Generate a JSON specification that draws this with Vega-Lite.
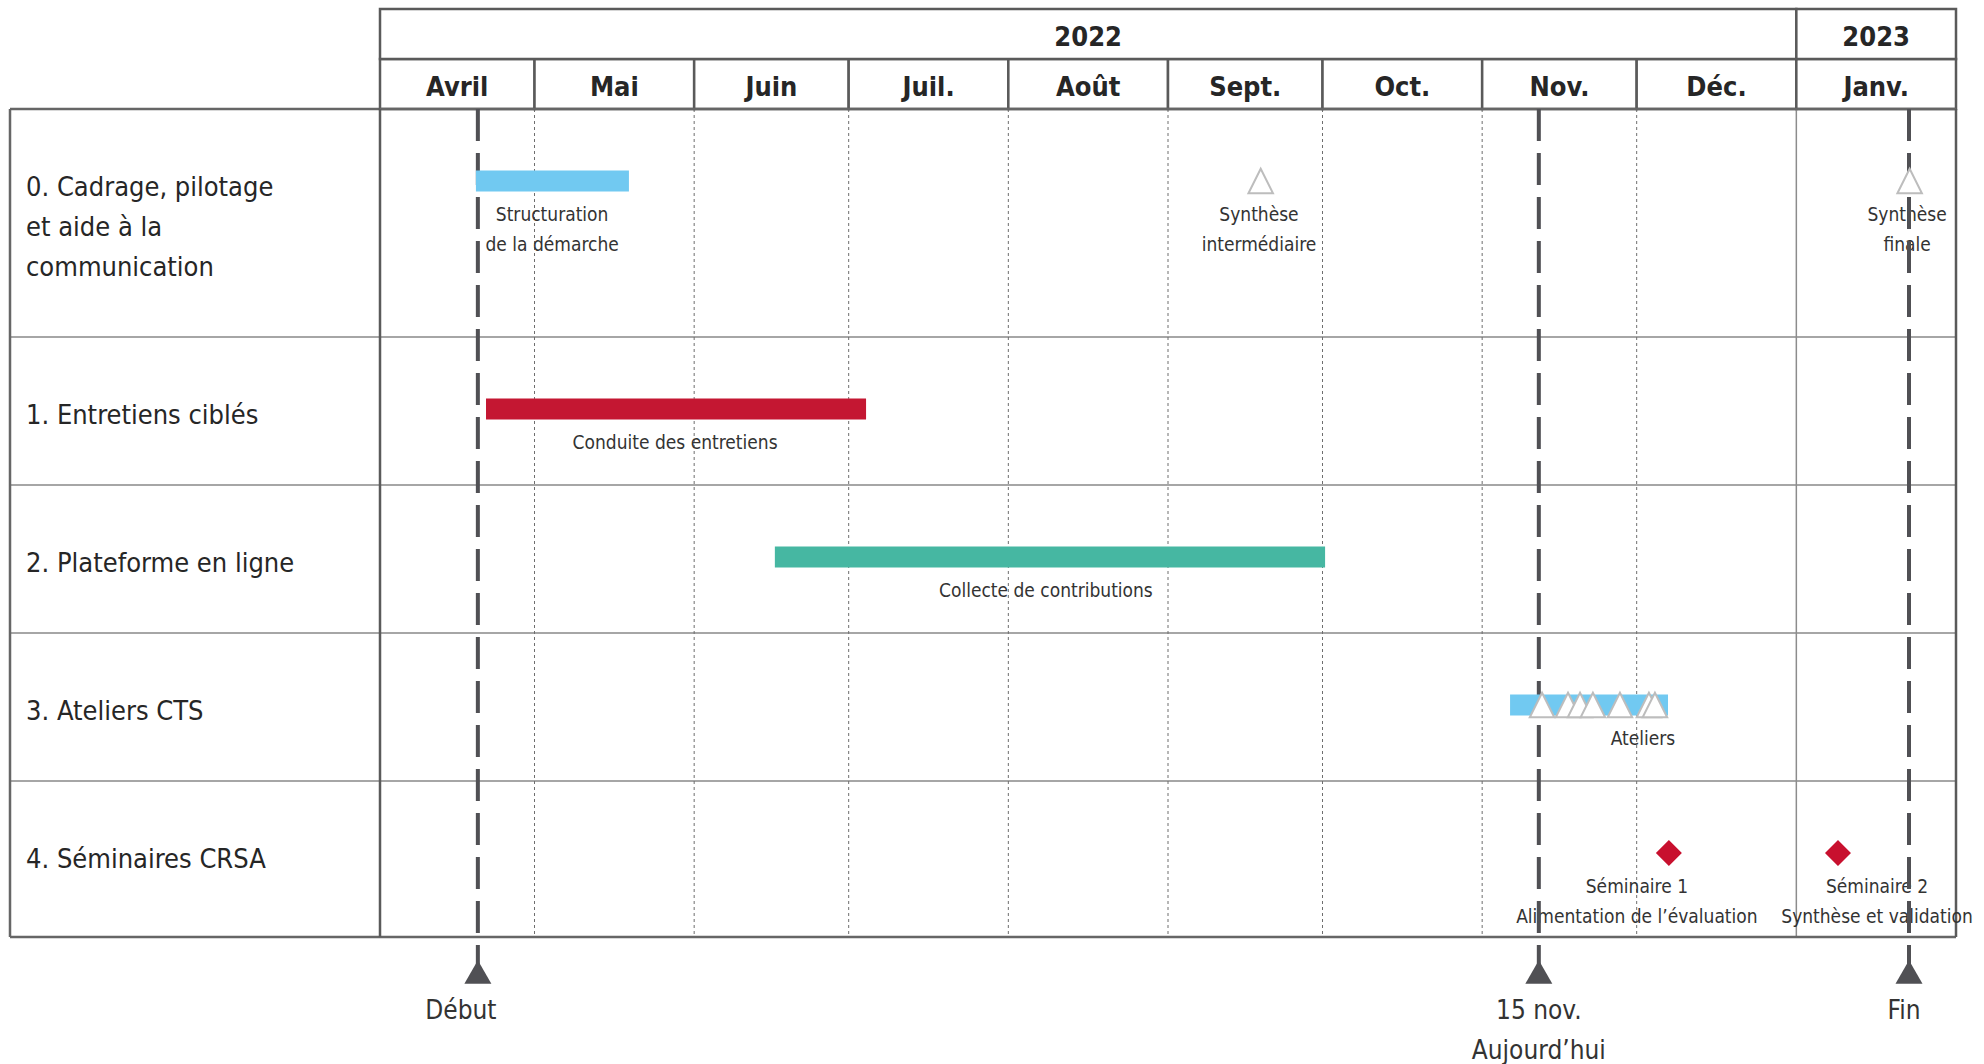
{
  "$schema": "https://vega.github.io/schema/vega-lite/v6.json",
  "padding": {"left": 8, "top": 7, "right": 0, "bottom": 0},
  "background": "white",
  "spacing": 0,
  "bounds": "flush",
  "config": {"view": {"stroke": null}, "font": "DejaVu Sans Condensed, DejaVu Sans, sans-serif"},
  "datasets": {
    "rows": [
      {"lane": 0, "lines": ["0. Cadrage, pilotage", "et aide à la", "communication"]},
      {"lane": 1, "lines": ["1. Entretiens ciblés"]},
      {"lane": 2, "lines": ["2. Plateforme en ligne"]},
      {"lane": 3, "lines": ["3. Ateliers CTS"]},
      {"lane": 4, "lines": ["4. Séminaires CRSA"]}
    ],
    "hlines": [
      {"lane": 0, "kind": "border"},
      {"lane": 1, "kind": "row"},
      {"lane": 2, "kind": "row"},
      {"lane": 3, "kind": "row"},
      {"lane": 4, "kind": "row"},
      {"lane": 5, "kind": "border"}
    ],
    "months": [
      {"m": "Avril", "start": "2022-04-01", "end": "2022-05-01"},
      {"m": "Mai", "start": "2022-05-01", "end": "2022-06-01"},
      {"m": "Juin", "start": "2022-06-01", "end": "2022-07-01"},
      {"m": "Juil.", "start": "2022-07-01", "end": "2022-08-01"},
      {"m": "Août", "start": "2022-08-01", "end": "2022-09-01"},
      {"m": "Sept.", "start": "2022-09-01", "end": "2022-10-01"},
      {"m": "Oct.", "start": "2022-10-01", "end": "2022-11-01"},
      {"m": "Nov.", "start": "2022-11-01", "end": "2022-12-01"},
      {"m": "Déc.", "start": "2022-12-01", "end": "2023-01-01"},
      {"m": "Janv.", "start": "2023-01-01", "end": "2023-02-01"}
    ],
    "years": [
      {"year": "2022", "start": "2022-04-01", "end": "2023-01-01"},
      {"year": "2023", "start": "2023-01-01", "end": "2023-02-01"}
    ],
    "tasks": [
      {"lane": 0, "task": "Structuration de la démarche", "start": "2022-04-19T15:00Z", "end": "2022-05-19T08:00Z"},
      {"lane": 1, "task": "Conduite des entretiens", "start": "2022-04-21T14:00Z", "end": "2022-07-04T09:00Z"},
      {"lane": 2, "task": "Collecte de contributions", "start": "2022-06-16T16:00Z", "end": "2022-10-01T12:00Z"},
      {"lane": 3, "task": "Ateliers", "start": "2022-11-06T10:00Z", "end": "2022-12-07T02:00Z"}
    ],
    "milestones": [
      {"lane": 0, "date": "2022-09-19T00:00Z", "what": "Synthèse intermédiaire"},
      {"lane": 0, "date": "2023-01-23T00:00Z", "what": "Synthèse finale"},
      {"lane": 3, "date": "2022-11-12T15:00Z", "what": "Atelier"},
      {"lane": 3, "date": "2022-11-17T16:00Z", "what": "Atelier"},
      {"lane": 3, "date": "2022-11-20T00:00Z", "what": "Atelier"},
      {"lane": 3, "date": "2022-11-22T12:00Z", "what": "Atelier"},
      {"lane": 3, "date": "2022-11-27T18:00Z", "what": "Atelier"},
      {"lane": 3, "date": "2022-12-03T09:00Z", "what": "Atelier"},
      {"lane": 3, "date": "2022-12-04T13:00Z", "what": "Atelier"}
    ],
    "seminars": [
      {"lane": 4, "date": "2022-12-07T06:00Z", "what": "Séminaire 1"},
      {"lane": 4, "date": "2023-01-09T02:00Z", "what": "Séminaire 2"}
    ],
    "notes": [
      {"lane": 0, "at": "2022-05-04T10:00Z", "lines": ["Structuration", "de la démarche"]},
      {"lane": 0, "at": "2022-09-18T16:00Z", "lines": ["Synthèse", "intermédiaire"]},
      {"lane": 0, "at": "2023-01-22T12:00Z", "lines": ["Synthèse", "finale"]},
      {"lane": 1, "at": "2022-05-28T07:00Z", "lines": ["Conduite des entretiens"]},
      {"lane": 2, "at": "2022-08-08T07:00Z", "lines": ["Collecte de contributions"]},
      {"lane": 3, "at": "2022-12-02T05:00Z", "lines": ["Ateliers"]},
      {"lane": 4, "at": "2022-12-01T01:00Z", "lines": ["Séminaire 1", "Alimentation de l’évaluation"]},
      {"lane": 4, "at": "2023-01-16T16:00Z", "lines": ["Séminaire 2", "Synthèse et validation"]}
    ],
    "markers": [
      {"name": "Début", "date": "2022-04-20T00:00Z"},
      {"name": "Aujourd’hui", "date": "2022-11-12T00:00Z"},
      {"name": "Fin", "date": "2023-01-22T21:00Z"}
    ],
    "markerLabels": [
      {"at": "2022-04-16T17:00Z", "lines": ["Début"]},
      {"at": "2022-11-12T00:00Z", "lines": ["15 nov.", "Aujourd’hui"]},
      {"at": "2023-01-21T22:00Z", "lines": ["Fin"]}
    ]
  },
  "hconcat": [
    {
      "width": 370,
      "height": 1057,
      "layer": [
        {
          "data": {"name": "hlines"},
          "transform": [{"filter": "datum.kind === 'row'"}],
          "mark": {"type": "rule", "color": "#a6a6a6", "strokeWidth": 2},
          "encoding": {
            "y": {"field": "lane", "type": "quantitative", "axis": null,
                  "scale": {"domain": [-2, -1, 0, 1, 2, 3, 4, 5, 6], "range": [0, 50, 100, 328, 476, 624, 772, 928, 1057], "nice": false, "zero": false}}
          }
        },
        {
          "data": {"name": "hlines"},
          "transform": [{"filter": "datum.kind === 'border'"}],
          "mark": {"type": "rule", "color": "#666666", "strokeWidth": 2.5},
          "encoding": {"y": {"field": "lane", "type": "quantitative"}}
        },
        {
          "data": {"values": [{"edge": "left"}]},
          "mark": {"type": "rule", "color": "#666666", "strokeWidth": 2.5},
          "encoding": {
            "x": {"datum": 0, "type": "quantitative", "axis": null, "scale": {"domain": [0, 1], "nice": false, "zero": false}},
            "y": {"datum": 0, "type": "quantitative"},
            "y2": {"datum": 5}
          }
        },
        {
          "data": {"name": "rows"},
          "mark": {"type": "text", "align": "left", "baseline": "alphabetic", "dx": 16, "dy": 87, "fontSize": 27, "lineHeight": 40, "color": "#262626", "font": "DejaVu Sans Condensed, DejaVu Sans, sans-serif"},
          "encoding": {
            "x": {"datum": 0, "type": "quantitative"},
            "y": {"field": "lane", "type": "quantitative"},
            "text": {"field": "lines", "type": "nominal"}
          }
        }
      ]
    },
    {
      "width": 1576,
      "height": 1057,
      "layer": [
        {
          "data": {"name": "months"},
          "mark": {"type": "rect", "fill": "white", "stroke": "#5a5a5a", "strokeWidth": 2.5},
          "encoding": {
            "x": {"field": "start", "type": "temporal", "axis": null,
                  "scale": {"type": "utc", "domain": [{"year": 2022, "month": 4, "date": 1, "utc": true}, {"year": 2023, "month": 2, "date": 1, "utc": true}], "nice": false}},
            "x2": {"field": "end"},
            "y": {"datum": -1, "type": "quantitative", "axis": null,
                  "scale": {"domain": [-2, -1, 0, 1, 2, 3, 4, 5, 6], "range": [0, 50, 100, 328, 476, 624, 772, 928, 1057], "nice": false, "zero": false}},
            "y2": {"datum": 0}
          }
        },
        {
          "data": {"name": "years"},
          "mark": {"type": "rect", "fill": "white", "stroke": "#5a5a5a", "strokeWidth": 2.5},
          "encoding": {
            "x": {"field": "start", "type": "temporal"},
            "x2": {"field": "end"},
            "y": {"datum": -2, "type": "quantitative"},
            "y2": {"datum": -1}
          }
        },
        {
          "data": {"name": "months"},
          "mark": {"type": "text", "align": "center", "baseline": "alphabetic", "dy": 37, "fontSize": 27, "fontWeight": "bold", "color": "#262626", "font": "DejaVu Sans Condensed, DejaVu Sans, sans-serif"},
          "encoding": {
            "x": {"field": "start", "type": "temporal", "timeUnit": "utcyearmonth", "bandPosition": 0.5},
            "y": {"datum": -1, "type": "quantitative"},
            "text": {"field": "m", "type": "nominal"}
          }
        },
        {
          "data": {"name": "years", "format": {"parse": {"start": "date", "end": "date"}}},
          "transform": [
            {"fold": ["start", "end"], "as": ["edge", "d"]},
            {"aggregate": [{"op": "mean", "field": "d", "as": "mid"}], "groupby": ["year"]}
          ],
          "mark": {"type": "text", "align": "center", "baseline": "alphabetic", "dy": 37, "fontSize": 27, "fontWeight": "bold", "color": "#262626", "font": "DejaVu Sans Condensed, DejaVu Sans, sans-serif"},
          "encoding": {
            "x": {"field": "mid", "type": "temporal"},
            "y": {"datum": -2, "type": "quantitative"},
            "text": {"field": "year", "type": "nominal"}
          }
        },
        {
          "data": {"name": "hlines"},
          "transform": [{"filter": "datum.kind === 'row'"}],
          "mark": {"type": "rule", "color": "#a6a6a6", "strokeWidth": 2},
          "encoding": {"y": {"field": "lane", "type": "quantitative"}}
        },
        {
          "data": {"name": "months"},
          "transform": [{"filter": {"field": "m", "oneOf": ["Mai", "Juin", "Juil.", "Août", "Sept.", "Oct.", "Nov.", "Déc."]}}],
          "mark": {"type": "rule", "color": "#6e6e6e", "strokeWidth": 1, "strokeDash": [3, 3]},
          "encoding": {
            "x": {"field": "start", "type": "temporal"},
            "y": {"datum": 0, "type": "quantitative"},
            "y2": {"datum": 5}
          }
        },
        {
          "data": {"name": "months"},
          "transform": [{"filter": {"field": "m", "equal": "Janv."}}],
          "mark": {"type": "rule", "color": "#8c8c8c", "strokeWidth": 1.5},
          "encoding": {
            "x": {"field": "start", "type": "temporal"},
            "y": {"datum": 0, "type": "quantitative"},
            "y2": {"datum": 5}
          }
        },
        {
          "data": {"name": "hlines"},
          "transform": [{"filter": "datum.kind === 'border'"}],
          "mark": {"type": "rule", "color": "#666666", "strokeWidth": 2.5},
          "encoding": {"y": {"field": "lane", "type": "quantitative"}}
        },
        {
          "data": {"name": "months"},
          "transform": [{"filter": {"field": "m", "oneOf": ["Avril"]}}],
          "mark": {"type": "rule", "color": "#5a5a5a", "strokeWidth": 2.5},
          "encoding": {
            "x": {"field": "start", "type": "temporal"},
            "y": {"datum": 0, "type": "quantitative"},
            "y2": {"datum": 5}
          }
        },
        {
          "data": {"name": "months"},
          "transform": [{"filter": {"field": "m", "oneOf": ["Janv."]}}],
          "mark": {"type": "rule", "color": "#5a5a5a", "strokeWidth": 2.5},
          "encoding": {
            "x": {"field": "end", "type": "temporal"},
            "y": {"datum": 0, "type": "quantitative"},
            "y2": {"datum": 5}
          }
        },
        {
          "data": {"name": "notes"},
          "mark": {"type": "text", "align": "center", "baseline": "alphabetic", "dy": 112, "fontSize": 19, "lineHeight": 30, "color": "#333333", "font": "DejaVu Sans Condensed, DejaVu Sans, sans-serif"},
          "encoding": {
            "x": {"field": "at", "type": "temporal"},
            "y": {"field": "lane", "type": "quantitative"},
            "text": {"field": "lines", "type": "nominal"}
          }
        },
        {
          "data": {"name": "markers"},
          "mark": {"type": "rule", "color": "#505054", "strokeWidth": 4, "strokeDash": [32, 12], "y2Offset": 30},
          "encoding": {
            "x": {"field": "date", "type": "temporal"},
            "y": {"datum": 0, "type": "quantitative"},
            "y2": {"datum": 5}
          }
        },
        {
          "data": {"name": "tasks"},
          "mark": {"type": "rule", "strokeWidth": 21, "yOffset": 72, "strokeCap": "butt"},
          "encoding": {
            "x": {"field": "start", "type": "temporal"},
            "x2": {"field": "end"},
            "y": {"field": "lane", "type": "quantitative"},
            "color": {"field": "lane", "type": "nominal", "legend": null,
                      "scale": {"domain": [0, 1, 2, 3], "range": ["#71c9f1", "#c41732", "#46b7a2", "#71c9f1"]}}
          }
        },
        {
          "data": {"name": "milestones"},
          "mark": {"type": "point", "shape": "M0,-1L1,1L-1,1Z", "size": 600, "filled": true, "fill": "#ffffff", "stroke": "#bdbdbd", "strokeWidth": 2, "opacity": 1, "yOffset": 72},
          "encoding": {
            "x": {"field": "date", "type": "temporal"},
            "y": {"field": "lane", "type": "quantitative"}
          }
        },
        {
          "data": {"name": "seminars"},
          "mark": {"type": "point", "shape": "diamond", "size": 676, "filled": true, "color": "#c8102e", "opacity": 1, "yOffset": 72},
          "encoding": {
            "x": {"field": "date", "type": "temporal"},
            "y": {"field": "lane", "type": "quantitative"}
          }
        },
        {
          "data": {"name": "markers"},
          "mark": {"type": "point", "shape": "triangle-up", "size": 729, "filled": true, "color": "#505054", "opacity": 1, "yOffset": 35},
          "encoding": {
            "x": {"field": "date", "type": "temporal"},
            "y": {"datum": 5, "type": "quantitative"}
          }
        },
        {
          "data": {"name": "markerLabels"},
          "mark": {"type": "text", "align": "center", "baseline": "alphabetic", "dy": 82, "fontSize": 26, "lineHeight": 40, "color": "#333333", "font": "DejaVu Sans Condensed, DejaVu Sans, sans-serif"},
          "encoding": {
            "x": {"field": "at", "type": "temporal"},
            "y": {"datum": 5, "type": "quantitative"},
            "text": {"field": "lines", "type": "nominal"}
          }
        }
      ]
    }
  ]
}
